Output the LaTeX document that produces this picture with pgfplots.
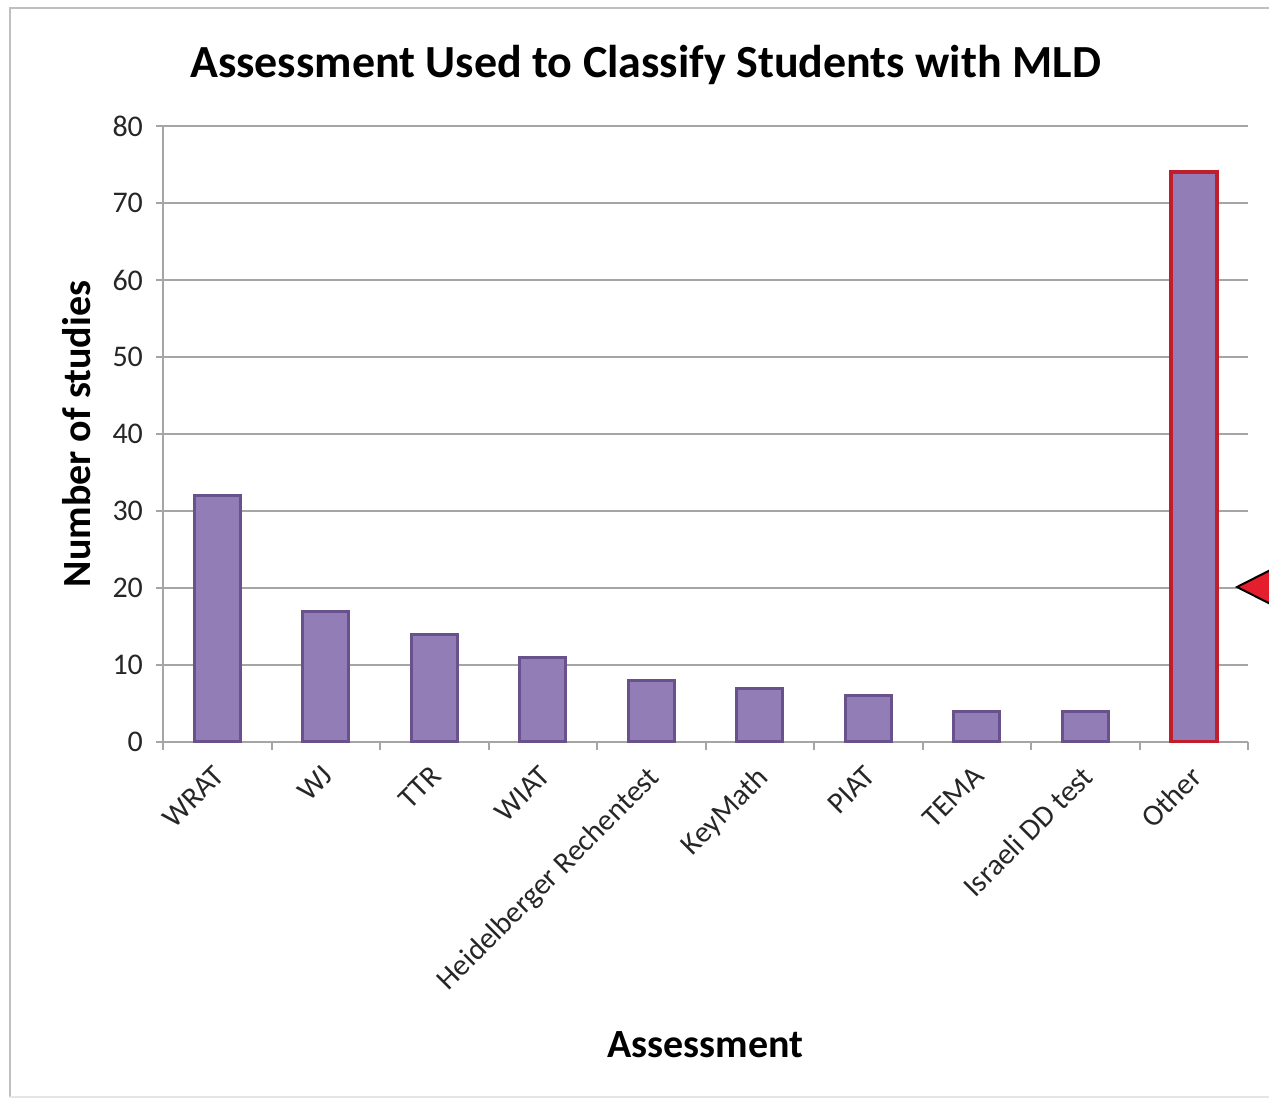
\documentclass[border=0pt]{standalone}
\usepackage{pgfplots}
\pgfplotsset{compat=1.18}
\usepackage{fontspec}
\setmainfont{Carlito}
\definecolor{barfill}{RGB}{146,125,182}
\definecolor{baredge}{RGB}{105,82,140}
\definecolor{otheredge}{RGB}{192,30,45}
\definecolor{gridc}{RGB}{165,165,165}
\definecolor{tri}{RGB}{228,30,45}
\begin{document}
\begin{tikzpicture}[x=1pt,y=1pt]
\useasboundingbox (0,0) rectangle (634.5,549.5);
\draw[gray!50, line width=1.2pt] (5,1) -- (5,545.5) -- (645,545.5);
\draw[gray!20, line width=0.8pt] (5,1) -- (645,1);
\begin{axis}[
  at={(81.5pt,178.5pt)}, anchor=south west,
  scale only axis, width=542.5pt, height=308pt,
  xmin=-0.5, xmax=9.5, ymin=0, ymax=80,
  ytick={0,10,...,80},
  /pgf/number format/assume math mode=true,
  ymajorgrids, grid style={gridc, line width=1pt},
  axis x line*=bottom, axis y line*=left,
  axis line style={gridc, line width=1pt},
  tick align=outside,
  major tick length=3.5pt, minor tick length=4pt,
  tick style={gridc, line width=1pt},
  xtick={0,...,9},
  major x tick style={draw=none},
  minor xtick={-0.5,0.5,...,9.5},
  xticklabels={WRAT,WJ,TTR,WIAT,Heidelberger Rechentest,KeyMath,PIAT,TEMA,Israeli DD test,Other},
  xticklabel style={xshift=-2.5pt, yshift=-6pt, rotate=45, anchor=north east, font=\fontsize{15}{15}\selectfont, text=black!85, inner sep=1pt},
  yticklabel style={font=\fontsize{15}{15}\selectfont, text=black!85, xshift=-3pt},
  ylabel={Number of studies},
  xlabel={Assessment},
  title={Assessment Used to Classify Students with MLD},
  every axis y label/.style={at={(axis description cs:0,0.5)}, xshift=-43pt, rotate=90, anchor=center, font=\fontsize{20}{20}\selectfont\bfseries},
  every axis x label/.style={at={(axis description cs:0.5,0)}, anchor=center, yshift=-151.5pt, font=\fontsize{20}{20}\selectfont\bfseries},
  every axis title/.style={at={(axis description cs:0.5,1)}, anchor=center, yshift=30.5pt, xshift=-30pt, font=\fontsize{23}{23}\selectfont\bfseries},
  ybar, bar width=23pt,
]
\addplot[bar shift=0pt, fill=barfill, draw=baredge, line width=1.6pt] coordinates {(0,32) (1,17) (2,14) (3,11) (4,8) (5,7) (6,6) (7,4) (8,4)};
\addplot[bar shift=0pt, fill=barfill, draw=otheredge, line width=1.9pt] coordinates {(9,74)};
\end{axis}
\draw[black, line width=1pt, fill=tri] (618.5,256) -- (650,272) -- (650,240) -- cycle;
\end{tikzpicture}
\end{document}
